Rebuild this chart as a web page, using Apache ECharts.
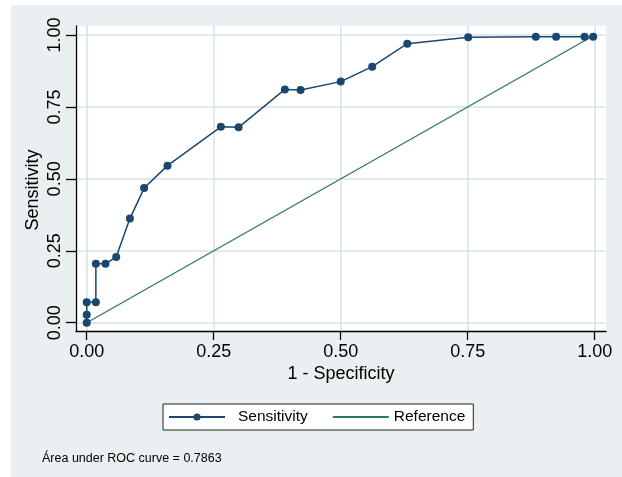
<!DOCTYPE html>
<html>
<head>
<meta charset="utf-8">
<script src="https://cdn.jsdelivr.net/npm/echarts@6/dist/echarts.min.js"></script>
<style>
  html, body { margin: 0; padding: 0; background: #fff; }
  #chart { width: 622px; height: 477px; }
</style>
</head>
<body>
<div id="chart"></div>
<script>
  // ROC points
  var fpr = [0, 0, 0, 0.018, 0.018, 0.037, 0.058, 0.085, 0.113, 0.159, 0.264, 0.299,
    0.390, 0.421, 0.500, 0.562, 0.631, 0.751, 0.884, 0.924, 0.980, 0.997]
  var sens = [0, 0.028, 0.071, 0.071, 0.205, 0.205, 0.228, 0.362, 0.468, 0.546, 0.681, 0.679,
    0.811, 0.809, 0.838, 0.890, 0.970, 0.992, 0.994, 0.994, 0.994, 0.994]
  var refX = [0, 1]
  var refY = [0, 1]
  var tickValues = [0, 0.25, 0.5, 0.75, 1]
  var aucNote = 'Área under ROC curve = 0.7863'

  var font = "'Liberation Sans', Arial, sans-serif"
  var navy = '#1a476f'
  var green = '#2f7565'
  var gridColor = '#d6e2e9'

  function pairs(xs, ys) {
    return xs.map(function (x, i) { return [x, ys[i]] })
  }

  var chart = echarts.init(document.getElementById('chart'), null, { renderer: 'canvas' })
  chart.setOption({
    animation: false,
    backgroundColor: '#eaf0f1',
    graphic: [
      { type: 'rect', shape: { x: 0, y: 0, width: 11, height: 477 }, style: { fill: '#fff' }, silent: true },
      { type: 'rect', shape: { x: 0, y: 0, width: 622, height: 5 }, style: { fill: '#fff' }, silent: true }
    ],
    title: {
      text: aucNote,
      left: 42,
      top: 452,
      padding: 0,
      textStyle: { fontFamily: font, fontSize: 12.5, fontWeight: 'normal', color: '#000' }
    },
    grid: {
      left: 76,
      top: 26,
      width: 530,
      height: 305,
      show: true,
      backgroundColor: '#fff',
      borderWidth: 0
    },
    legend: {
      left: 163,
      top: 404,
      padding: [5, 8, 5, 5],
      itemGap: 24,
      itemWidth: 56,
      itemHeight: 9,
      backgroundColor: '#fff',
      borderColor: '#222',
      borderWidth: 1,
      borderRadius: 0,
      textStyle: { fontFamily: font, fontSize: 15.5, color: '#000' },
      data: [
        { name: 'Sensitivity', textStyle: { padding: [0, 0, 0, 8] } },
        { name: 'Reference', itemStyle: { color: 'rgba(0,0,0,0)', borderWidth: 0 } }
      ]
    },
    xAxis: {
      type: 'value',
      min: -0.0211,
      max: 1.0222,
      name: '1 - Specificity',
      nameLocation: 'middle',
      nameGap: 34,
      nameMoveOverlap: false,
      nameTextStyle: { fontFamily: font, fontSize: 18, color: '#000' },
      axisLine: { onZero: false, lineStyle: { color: '#000', width: 1.3 } },
      axisTick: { show: true, length: 9, customValues: tickValues, lineStyle: { color: '#000', width: 1.3 } },
      axisLabel: {
        customValues: tickValues,
        margin: 12,
        fontFamily: font,
        fontSize: 18,
        color: '#000',
        formatter: function (v) { return v.toFixed(2) }
      },
      splitLine: { show: true, lineStyle: { color: gridColor, width: 1.5 } }
    },
    yAxis: {
      type: 'value',
      min: -0.0288,
      max: 1.0313,
      name: 'Sensitivity',
      nameLocation: 'middle',
      nameGap: 34,
      nameMoveOverlap: false,
      nameTextStyle: { fontFamily: font, fontSize: 18, color: '#000', padding: [0, 23, 0, 0] },
      axisLine: { onZero: false, lineStyle: { color: '#000', width: 1.3 } },
      axisTick: { show: true, length: 10, customValues: tickValues, lineStyle: { color: '#000', width: 1.3 } },
      axisLabel: {
        customValues: tickValues,
        rotate: 90,
        margin: 12,
        fontFamily: font,
        fontSize: 18,
        color: '#000',
        formatter: function (v) { return v.toFixed(2) }
      },
      splitLine: { show: true, lineStyle: { color: gridColor, width: 1.5 } }
    },
    series: [
      {
        name: 'Reference',
        type: 'line',
        data: pairs(refX, refY),
        symbol: 'none',
        lineStyle: { color: green, width: 1.3 },
        itemStyle: { color: green },
        z: 2
      },
      {
        name: 'Sensitivity',
        type: 'line',
        data: pairs(fpr, sens),
        symbol: 'circle',
        symbolSize: 8,
        lineStyle: { color: navy, width: 1.5 },
        itemStyle: { color: navy },
        z: 3
      }
    ]
  })
</script>
</body>
</html>
